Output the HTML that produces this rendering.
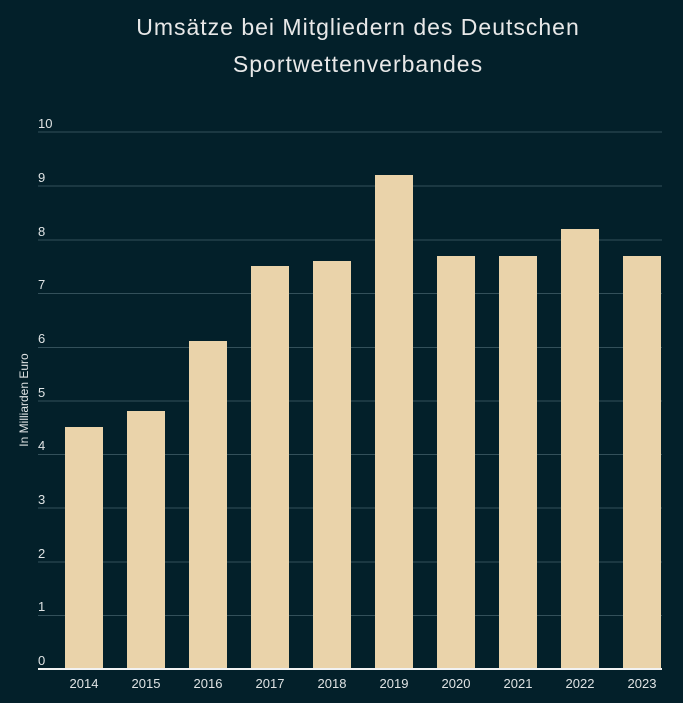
<!DOCTYPE html>
<html><head><meta charset="utf-8"><style>
html,body{margin:0;padding:0;background:#03202a;}
svg{display:block}
</style></head><body>
<svg width="683" height="703" xmlns="http://www.w3.org/2000/svg">
<rect width="683" height="703" fill="#03202a"/>
<g font-family="Liberation Sans, sans-serif" fill="#e8e8e8" text-anchor="middle" font-size="23" letter-spacing="1">
<text x="358" y="35">Umsätze bei Mitgliedern des Deutschen</text>
<text x="358" y="72">Sportwettenverbandes</text>
</g>
<g stroke="#33505a" stroke-width="1">
<line x1="38" x2="662" y1="132" y2="132"/>
<line x1="38" x2="662" y1="186" y2="186"/>
<line x1="38" x2="662" y1="240" y2="240"/>
<line x1="38" x2="662" y1="293.5" y2="293.5"/>
<line x1="38" x2="662" y1="347.5" y2="347.5"/>
<line x1="38" x2="662" y1="401" y2="401"/>
<line x1="38" x2="662" y1="454.5" y2="454.5"/>
<line x1="38" x2="662" y1="508" y2="508"/>
<line x1="38" x2="662" y1="562" y2="562"/>
<line x1="38" x2="662" y1="615.5" y2="615.5"/>
</g>
<g font-family="Liberation Sans, sans-serif" fill="#dfe3e4" font-size="13">
<text x="38" y="128">10</text>
<text x="38" y="182">9</text>
<text x="38" y="236">8</text>
<text x="38" y="289">7</text>
<text x="38" y="343">6</text>
<text x="38" y="397">5</text>
<text x="38" y="450">4</text>
<text x="38" y="504">3</text>
<text x="38" y="558">2</text>
<text x="38" y="611">1</text>
<text x="38" y="665">0</text>
</g>
<text x="28" y="400" transform="rotate(-90 28 400)" text-anchor="middle" font-family="Liberation Sans, sans-serif" font-size="12" fill="#dfe3e4">In Milliarden Euro</text>
<g fill="#ead3aa">
<rect x="65" y="427" width="38" height="242"/>
<rect x="127" y="411" width="38" height="258"/>
<rect x="189" y="341" width="38" height="328"/>
<rect x="251" y="266" width="38" height="403"/>
<rect x="313" y="261" width="38" height="408"/>
<rect x="375" y="175" width="38" height="494"/>
<rect x="437" y="256" width="38" height="413"/>
<rect x="499" y="256" width="38" height="413"/>
<rect x="561" y="229" width="38" height="440"/>
<rect x="623" y="256" width="38" height="413"/>
</g>
<line x1="38" x2="662" y1="669" y2="669" stroke="#f2f2f2" stroke-width="2"/>
<g font-family="Liberation Sans, sans-serif" fill="#dfe3e4" font-size="13" text-anchor="middle">
<text x="84" y="688">2014</text>
<text x="146" y="688">2015</text>
<text x="208" y="688">2016</text>
<text x="270" y="688">2017</text>
<text x="332" y="688">2018</text>
<text x="394" y="688">2019</text>
<text x="456" y="688">2020</text>
<text x="518" y="688">2021</text>
<text x="580" y="688">2022</text>
<text x="642" y="688">2023</text>
</g>
</svg>
</body></html>
